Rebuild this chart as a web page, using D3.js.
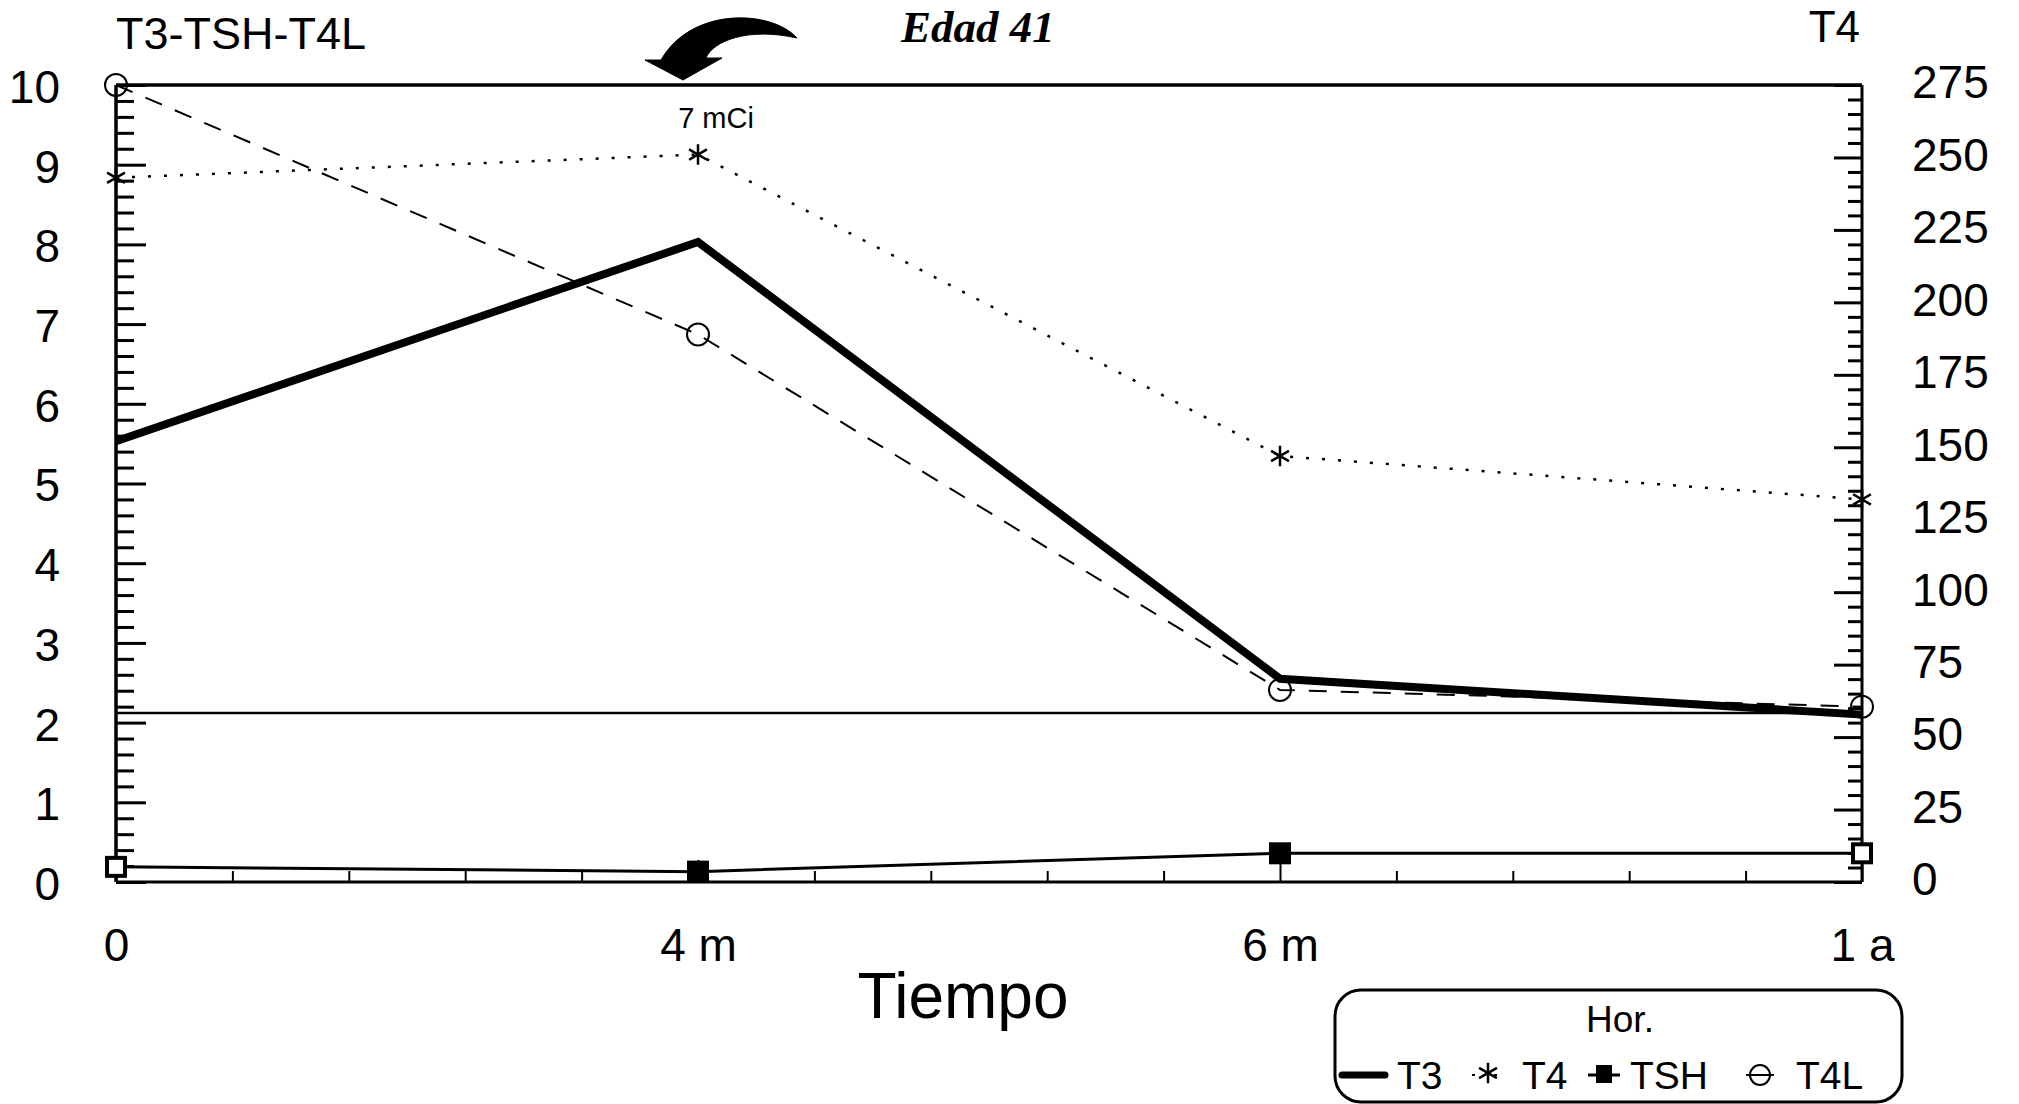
<!DOCTYPE html>
<html>
<head>
<meta charset="utf-8">
<script src="https://cdn.jsdelivr.net/npm/d3@7"></script>
<style>
html,body{margin:0;padding:0;background:#fff;}
svg{display:block;}
text{font-family:"Liberation Sans",Arial,sans-serif;fill:#000;}
</style>
</head>
<body>
<svg id="chart" width="2019" height="1104"></svg>
<script>
// ---- data ----
const categories = ["0", "4 m", "6 m", "1 a"];
const t3Values  = [5.53, 8.03, 2.55, 2.10];   // left axis
const t4Values  = [243, 251, 147, 132];       // right axis
const tshValues = [0.19, 0.13, 0.36, 0.36];   // left axis
const t4lValues = [10.0, 6.87, 2.41, 2.20];   // left axis
const leftTicks  = [0,1,2,3,4,5,6,7,8,9,10];
const rightTicks = [0,25,50,75,100,125,150,175,200,225,250,275];
const refLineValue = 2.12;
const legendItems = ["T3","T4","TSH","T4L"];

// ---- layout ----
const svg = d3.select("#chart");
const X0 = 116, X1 = 1862, Y0 = 882, Y1 = 85;

const x = d3.scalePoint().domain(categories).range([X0, X1]);
const xLin = d3.scaleLinear().domain([0, categories.length - 1]).range([X0, X1]);
const yL = d3.scaleLinear().domain([0, 10]).range([Y0, Y1]);
const yR = d3.scaleLinear().domain([0, 275]).range([Y0, Y1]);

function styleAxis(g, fs) {
  g.select(".domain").remove();
  g.selectAll(".tick line").attr("stroke", "#000").attr("stroke-width", 3);
  g.selectAll("text").style("font-size", fs + "px").attr("fill", "#000");
}

// left axis minor
const lMinor = d3.range(0, 10.001, 0.2).filter(v => Math.abs(v - Math.round(v)) > 1e-6);
svg.append("g").attr("transform", `translate(${X0},0)`)
  .call(d3.axisLeft(yL).tickValues(lMinor).tickSize(-18).tickFormat(""))
  .call(g => styleAxis(g, 10));
// left axis major
svg.append("g").attr("transform", `translate(${X0},0)`)
  .call(d3.axisLeft(yL).tickValues(leftTicks).tickSize(-30).tickPadding(56).tickFormat(d3.format("d")))
  .call(g => styleAxis(g, 46))
  .call(g => g.selectAll("text").attr("dy", "0.38em"));

// right axis minor
const rMinor = d3.range(0, 275.001, 5).filter(v => v % 25 !== 0);
svg.append("g").attr("transform", `translate(${X1},0)`)
  .call(d3.axisRight(yR).tickValues(rMinor).tickSize(-14).tickFormat(""))
  .call(g => styleAxis(g, 10));
svg.append("g").attr("transform", `translate(${X1},0)`)
  .call(d3.axisRight(yR).tickValues(rightTicks).tickSize(-28).tickPadding(50).tickFormat(d3.format("d")))
  .call(g => styleAxis(g, 46))
  .call(g => g.selectAll("text").attr("dy", "0.28em"));

// bottom axis minor
const xMinor = d3.range(0, 3.001, 0.2).filter(v => Math.abs(v - Math.round(v)) > 1e-6);
svg.append("g").attr("transform", `translate(0,${Y0})`)
  .call(d3.axisBottom(xLin).tickValues(xMinor).tickSize(-11).tickFormat(""))
  .call(g => styleAxis(g, 10))
  .call(g => g.selectAll(".tick line").attr("stroke-width", 2));
svg.append("g").attr("transform", `translate(0,${Y0})`)
  .call(d3.axisBottom(x).tickSize(-22).tickPadding(46))
  .call(g => styleAxis(g, 46))
  .call(g => g.selectAll(".tick line").attr("stroke-width", 2));

// frame lines
svg.append("line").attr("x1", X0).attr("x2", X0).attr("y1", Y1).attr("y2", Y0).attr("stroke", "#000").attr("stroke-width", 3.5);
svg.append("line").attr("x1", X1).attr("x2", X1).attr("y1", Y1).attr("y2", Y0).attr("stroke", "#000").attr("stroke-width", 3);
svg.append("line").attr("x1", X0).attr("x2", X1).attr("y1", Y1).attr("y2", Y1).attr("stroke", "#000").attr("stroke-width", 3.5);
svg.append("line").attr("x1", X0).attr("x2", X1).attr("y1", Y0).attr("y2", Y0).attr("stroke", "#000").attr("stroke-width", 3);
// reference line
svg.append("line").attr("x1", X0).attr("x2", X1).attr("y1", yL(refLineValue)).attr("y2", yL(refLineValue))
  .attr("stroke", "#000").attr("stroke-width", 2.5);

// ---- series lines ----
const lineL = d3.line().x((d, i) => x(categories[i])).y(d => yL(d));
const lineR = d3.line().x((d, i) => x(categories[i])).y(d => yR(d));

svg.append("path").datum(tshValues).attr("d", lineL).attr("fill", "none").attr("stroke", "#000").attr("stroke-width", 3);
svg.append("path").datum(t4lValues).attr("d", lineL).attr("fill", "none").attr("stroke", "#000").attr("stroke-width", 2).attr("stroke-dasharray", "18,14");
svg.append("path").datum(t4Values).attr("d", lineR).attr("fill", "none").attr("stroke", "#000").attr("stroke-width", 2.5).attr("stroke-dasharray", "3,13");
svg.append("path").datum(t3Values).attr("d", lineL).attr("fill", "none").attr("stroke", "#000").attr("stroke-width", 8).attr("stroke-linejoin", "miter");

// ---- markers ----
const star = d3.symbol().type(d3.symbolAsterisk).size(300);
svg.selectAll(".t4m").data(t4Values).join("path").attr("class", "t4m")
  .attr("transform", (d, i) => `translate(${x(categories[i])},${yR(d)})`)
  .attr("d", star).attr("fill", "none").attr("stroke", "#000").attr("stroke-width", 2.5);

svg.selectAll(".t4lm").data(t4lValues).join("circle").attr("class", "t4lm")
  .attr("cx", (d, i) => x(categories[i])).attr("cy", d => yL(d)).attr("r", 11)
  .attr("fill", "none").attr("stroke", "#000").attr("stroke-width", 2);

svg.selectAll(".tshm").data(tshValues).join("rect").attr("class", "tshm")
  .attr("x", (d, i) => x(categories[i]) - 9).attr("y", d => yL(d) - 9)
  .attr("width", 18).attr("height", 18)
  .attr("fill", (d, i) => (i === 0 || i === categories.length - 1) ? "#fff" : "#000")
  .attr("stroke", "#000").attr("stroke-width", 4);

// ---- texts ----
svg.append("text").attr("x", X0).attr("y", 49).style("font-size", "45px").text("T3-TSH-T4L");
svg.append("text").attr("x", X1 - 2).attr("y", 42).attr("text-anchor", "end").style("font-size", "44px").text("T4");
svg.append("text").attr("x", 978).attr("y", 42).attr("text-anchor", "middle")
  .style("font-family", "'Liberation Serif','Times New Roman',serif").style("font-weight", "bold").style("font-style", "italic")
  .style("font-size", "45px").text("Edad 41");
svg.append("text").attr("x", x(categories[1]) + 18).attr("y", 128).attr("text-anchor", "middle").style("font-size", "29px").text("7 mCi");
svg.append("text").attr("x", 963).attr("y", 1018).attr("text-anchor", "middle").style("font-size", "64px").text("Tiempo");

// arrow
svg.append("path")
  .attr("d", "M645,60 L683,80 L722,58 L706,58 C713,41 748,27 797,38 C772,10 692,6 661,60 Z")
  .attr("fill", "#000").attr("stroke", "#000").attr("stroke-width", 1);

// ---- legend ----
const lg = svg.append("g");
lg.append("rect").attr("x", 1335).attr("y", 990).attr("width", 567).attr("height", 112).attr("rx", 26)
  .attr("fill", "#fff").attr("stroke", "#000").attr("stroke-width", 3);
lg.append("text").attr("x", 1620).attr("y", 1032).attr("text-anchor", "middle").style("font-size", "37px").text("Hor.");
const ly = 1075;
const legX = [1342, 1488, 1604, 1760];
const legTextX = [1397, 1522, 1630, 1796];
// T3
lg.append("line").attr("x1", legX[0]).attr("x2", legX[0] + 43).attr("y1", ly).attr("y2", ly).attr("stroke", "#000").attr("stroke-width", 7).attr("stroke-linecap", "round");
// T4
lg.append("line").attr("x1", legX[1] - 16).attr("x2", legX[1] + 16).attr("y1", ly).attr("y2", ly).attr("stroke", "#000").attr("stroke-width", 2).attr("stroke-dasharray", "3,8");
lg.append("path").attr("transform", `translate(${legX[1]},${ly - 2})`).attr("d", star).attr("fill", "none").attr("stroke", "#000").attr("stroke-width", 2.5);
// TSH
lg.append("line").attr("x1", legX[2] - 16).attr("x2", legX[2] + 16).attr("y1", ly).attr("y2", ly).attr("stroke", "#000").attr("stroke-width", 3);
lg.append("rect").attr("x", legX[2] - 8).attr("y", ly - 10).attr("width", 16).attr("height", 18).attr("fill", "#000");
// T4L
lg.append("line").attr("x1", legX[3] - 14).attr("x2", legX[3] + 14).attr("y1", ly).attr("y2", ly).attr("stroke", "#000").attr("stroke-width", 2);
lg.append("circle").attr("cx", legX[3]).attr("cy", ly).attr("r", 10).attr("fill", "none").attr("stroke", "#000").attr("stroke-width", 2);
lg.selectAll(".lt").data(legendItems).join("text").attr("class", "lt")
  .attr("x", (d, i) => legTextX[i]).attr("y", 1089).style("font-size", "39px").text(d => d);
</script>
</body>
</html>
